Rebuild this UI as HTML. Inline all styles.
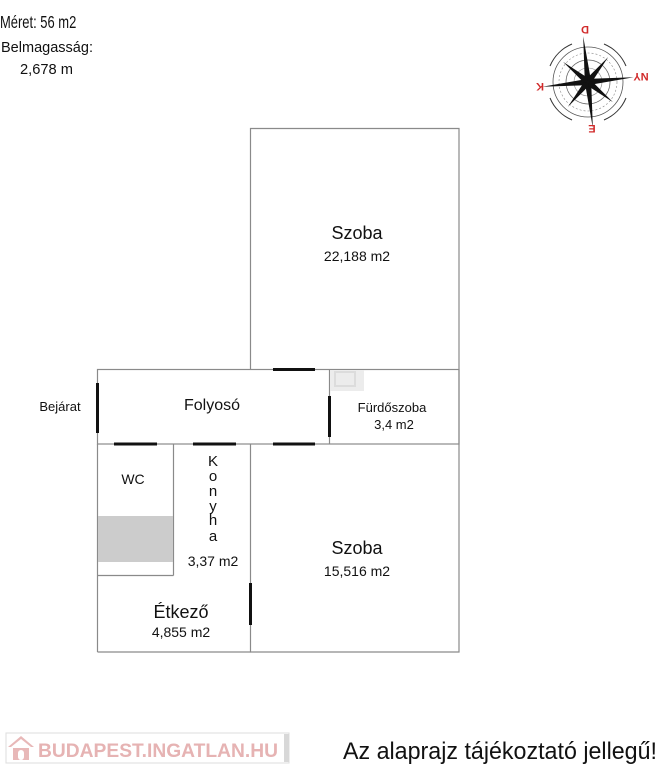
<!DOCTYPE html>
<html><head><meta charset="utf-8">
<style>
html,body{margin:0;padding:0;background:#fff;}
body{width:664px;height:768px;overflow:hidden;position:relative;font-family:"Liberation Sans",sans-serif;}
svg{position:absolute;left:0;top:0;}
</style></head><body>
<svg width="664" height="768" viewBox="0 0 664 768" xmlns="http://www.w3.org/2000/svg" font-family="Liberation Sans, sans-serif">
<!-- header texts -->
<text transform="translate(0,28) scale(0.72,1)" font-size="18" fill="#111">Méret: 56 m2</text>
<text x="1" y="52" font-size="15" fill="#111" textLength="92" lengthAdjust="spacingAndGlyphs">Belmagasság:</text>
<text x="20" y="74" font-size="15" fill="#111" textLength="53" lengthAdjust="spacingAndGlyphs">2,678 m</text>

<!-- compass -->
<g transform="translate(588,82)" fill="none" stroke="#333">
  <path d="M-38,-16 A41,41 0 0 1 -16,-38" stroke-width="1"/>
  <path d="M16,-38 A41,41 0 0 1 38,-16" stroke-width="1"/>
  <path d="M38,16 A41,41 0 0 1 16,38" stroke-width="1"/>
  <path d="M-16,38 A41,41 0 0 1 -38,16" stroke-width="1"/>
  <circle r="35" stroke-width="0.8" stroke="#555"/>
  <circle r="29" stroke-width="0.6" stroke="#888" stroke-dasharray="2 2"/>
  <circle r="22" stroke-width="0.7" stroke="#666"/>
  <circle r="14" stroke-width="0.6" stroke="#888"/>
  <g fill="#111" stroke="none">
    <polygon points="0,-46 3,-3 0,0 -3,-3" transform="rotate(-6)"/>
    <polygon points="0,46 3,3 0,0 -3,3" transform="rotate(-6)"/>
    <polygon points="-46,0 -3,3 0,0 -3,-3" transform="rotate(-6)"/>
    <polygon points="46,0 3,3 0,0 3,-3" transform="rotate(-6)"/>
    <polygon points="0,-32 3,-3 0,0 -3,-3" transform="rotate(39)"/>
    <polygon points="0,32 3,3 0,0 -3,3" transform="rotate(39)"/>
    <polygon points="-32,0 -3,3 0,0 -3,-3" transform="rotate(39)"/>
    <polygon points="32,0 3,3 0,0 3,-3" transform="rotate(39)"/>
  </g>
</g>
<g fill="#d12a2a" font-size="11" font-weight="bold" font-family="Liberation Sans, sans-serif">
  <text x="0" y="0" text-anchor="middle" transform="translate(585,26) rotate(180)">D</text>
  <text x="0" y="0" text-anchor="middle" transform="translate(641,73) rotate(180)">NY</text>
  <text x="0" y="0" text-anchor="middle" transform="translate(540,83) rotate(180)">K</text>
  <text x="0" y="0" text-anchor="middle" transform="translate(592,125) rotate(180)">E</text>
</g>

<!-- walls -->
<g fill="none" stroke="#8a8a8a" stroke-width="1.2">
  <polyline points="250.5,369.5 250.5,128.5 459,128.5 459,652 250.5,652 250.5,444"/>
  <rect x="97.5" y="369.5" width="361.5" height="74.5"/>
  <line x1="329.5" y1="369.5" x2="329.5" y2="444"/>
  <line x1="97.5" y1="444" x2="97.5" y2="652"/>
  <line x1="97.5" y1="652" x2="250.5" y2="652"/>
  <line x1="173.5" y1="444" x2="173.5" y2="575.5"/>
  <line x1="97.5" y1="575.5" x2="173.5" y2="575.5"/>
</g>
<!-- watermark fragment -->
<rect x="330" y="370" width="34" height="21" fill="#ececec"/>
<rect x="335" y="372" width="20" height="14" fill="none" stroke="#dcdcdc" stroke-width="2"/>
<!-- gray block in WC -->
<rect x="98" y="516" width="75" height="46" fill="#cccccc"/>

<!-- doors -->
<g stroke="#111" stroke-width="3">
  <line x1="97.5" y1="383" x2="97.5" y2="433"/>
  <line x1="273" y1="369.5" x2="315" y2="369.5"/>
  <line x1="329.5" y1="396" x2="329.5" y2="437"/>
  <line x1="114" y1="444" x2="157" y2="444"/>
  <line x1="193" y1="444" x2="236" y2="444"/>
  <line x1="273" y1="444" x2="315" y2="444"/>
  <line x1="250.5" y1="583" x2="250.5" y2="625"/>
</g>

<!-- labels -->
<g fill="#111" text-anchor="middle">
  <text x="357" y="239" font-size="18">Szoba</text>
  <text x="357" y="261" font-size="14">22,188 m2</text>
  <text x="212" y="410" font-size="16">Folyosó</text>
  <text x="392" y="412" font-size="13">Fürdőszoba</text>
  <text x="394" y="429" font-size="13">3,4 m2</text>
  <text x="60" y="411" font-size="13">Bejárat</text>
  <text x="133" y="484" font-size="14">WC</text>
  <g font-size="15">
    <text x="213" y="466">K</text>
    <text x="213" y="481">o</text>
    <text x="213" y="496">n</text>
    <text x="213" y="511">y</text>
    <text x="213" y="525">h</text>
    <text x="213" y="541">a</text>
  </g>
  <text x="213" y="566" font-size="14">3,37 m2</text>
  <text x="357" y="554" font-size="18">Szoba</text>
  <text x="357" y="576" font-size="14">15,516 m2</text>
  <text x="181" y="618" font-size="18">Étkező</text>
  <text x="181" y="637" font-size="14">4,855 m2</text>
</g>

<!-- footer logo -->
<rect x="6" y="733" width="283" height="30" fill="#fff" stroke="#ddd" stroke-width="1"/>
<rect x="284" y="734" width="5" height="28" fill="#d8d8d8"/>
<g fill="#e8b8b8">
  <polygon points="8,747 21,736 34,747 31,747 21,739 11,747"/>
  <rect x="13" y="748" width="16" height="12"/>
</g>
<rect x="18" y="750" width="6" height="10" rx="3" fill="#fff"/>
<text x="38" y="757" font-size="19" font-weight="bold" fill="#e6b3b3" textLength="240" lengthAdjust="spacingAndGlyphs">BUDAPEST.INGATLAN.HU</text>

<text x="343" y="759" font-size="24" fill="#111" textLength="314" lengthAdjust="spacingAndGlyphs">Az alaprajz tájékoztató jellegű!</text>
</svg>
</body></html>
